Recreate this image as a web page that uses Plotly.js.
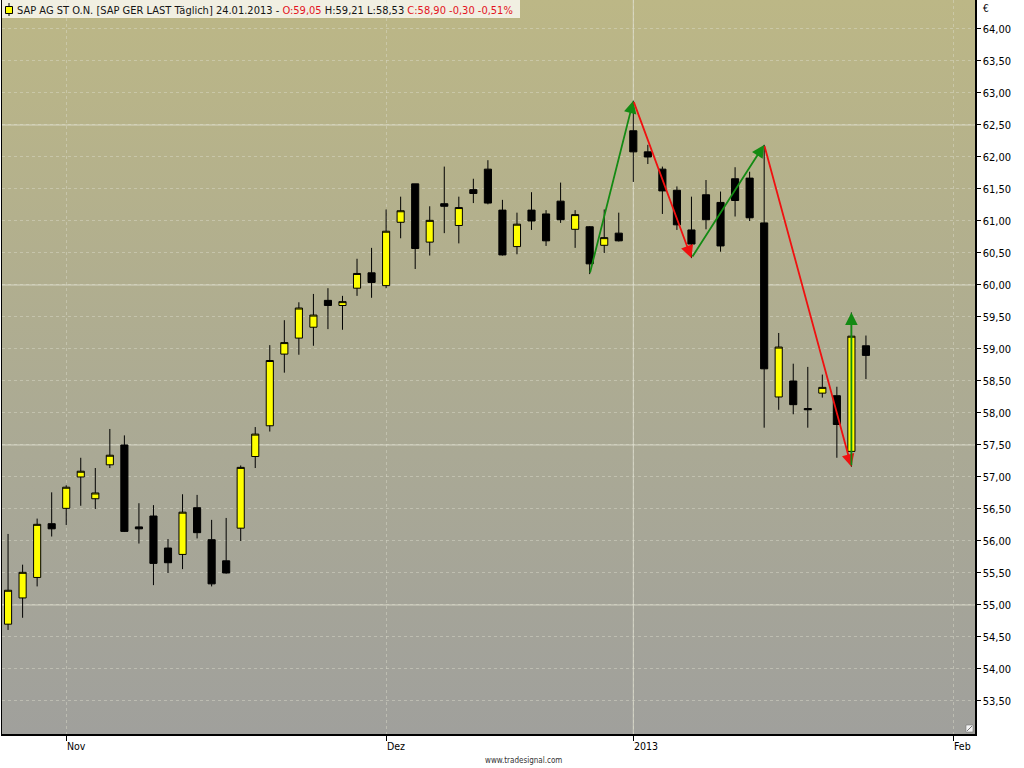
<!DOCTYPE html>
<html>
<head>
<meta charset="utf-8">
<script src="https://cdn.plot.ly/plotly-3.0.1.min.js"></script>
<style>
html,body{margin:0;padding:0;background:#ffffff;}
#wrap{position:relative;width:1024px;height:768px;background:#ffffff;overflow:hidden;}
#bg{position:absolute;left:2px;top:0px;width:973px;height:734px;
background:linear-gradient(to bottom,#bcb786 0%,#b3b08d 30%,#aaa995 62%,#a0a09c 100%);}
#chart{position:absolute;left:0;top:0;width:1024px;height:768px;}
</style>
</head>
<body>
<div id="wrap"><div id="bg"></div><div id="chart"></div></div>
<script>
// ---- data ----
const dates = [
 '2012-10-26','2012-10-29','2012-10-30','2012-10-31','2012-11-01','2012-11-02',
 '2012-11-05','2012-11-06','2012-11-07','2012-11-08','2012-11-09',
 '2012-11-12','2012-11-13','2012-11-14','2012-11-15','2012-11-16',
 '2012-11-19','2012-11-20','2012-11-21','2012-11-22','2012-11-23',
 '2012-11-26','2012-11-27','2012-11-28','2012-11-29','2012-11-30',
 '2012-12-03','2012-12-04','2012-12-05','2012-12-06','2012-12-07',
 '2012-12-10','2012-12-11','2012-12-12','2012-12-13','2012-12-14',
 '2012-12-17','2012-12-18','2012-12-19','2012-12-20','2012-12-21',
 '2012-12-27','2012-12-28',
 '2013-01-02','2013-01-03','2013-01-04',
 '2013-01-07','2013-01-08','2013-01-09','2013-01-10','2013-01-11',
 '2013-01-14','2013-01-15','2013-01-16','2013-01-17','2013-01-18',
 '2013-01-21','2013-01-22','2013-01-23','2013-01-24'
];
const openP = [
 54.70,55.11,55.43,56.27,56.51,57.00,
 56.66,57.19,57.50,56.22,56.39,
 55.89,55.79,56.52,56.02,55.69,
 56.20,57.32,57.80,58.92,59.17,
 59.34,59.76,59.68,59.95,60.19,
 59.99,60.98,61.58,60.67,61.27,
 60.93,61.49,61.81,61.17,60.60,
 61.17,61.11,61.31,60.87,60.91,
 60.62,60.81,
 62.41,62.08,61.81,
 61.48,60.86,61.41,61.29,61.66,
 61.67,60.97,58.25,58.50,58.07,
 58.31,58.27,57.40,59.05
];
const highP = [
 56.11,55.63,56.35,56.76,56.87,57.30,
 57.14,57.75,57.65,56.59,56.56,
 56.03,56.73,56.72,56.33,56.36,
 57.18,57.78,59.06,59.45,59.73,
 59.86,59.95,59.83,60.41,60.58,
 61.18,61.38,61.58,61.23,61.85,
 61.38,61.66,61.95,61.33,61.13,
 61.45,61.17,61.60,61.17,60.92,
 61.18,61.13,
 62.88,62.19,61.85,
 61.54,61.38,61.64,61.46,61.84,
 61.77,62.19,59.25,58.77,58.72,
 58.60,58.41,59.57,59.21
];
const lowP = [
 54.61,54.80,55.29,56.07,56.25,56.55,
 56.50,57.14,56.14,55.96,55.31,
 55.50,55.56,56.04,55.29,55.49,
 56.00,57.14,57.71,58.63,58.91,
 59.05,59.31,59.30,59.83,59.80,
 59.95,60.73,60.25,60.46,60.81,
 60.65,61.28,61.26,60.46,60.48,
 60.86,60.61,60.97,60.58,60.17,
 60.50,60.68,
 61.61,61.89,61.11,
 60.86,60.42,60.87,60.52,61.07,
 61.00,57.77,58.05,57.98,57.77,
 58.24,57.30,57.16,58.53
];
const closeP = [
 55.23,55.51,56.26,56.19,56.84,57.09,
 56.75,57.34,56.15,56.19,55.65,
 55.66,56.45,56.13,55.33,55.50,
 57.15,57.67,58.82,59.10,59.64,
 59.53,59.68,59.74,60.18,60.04,
 60.84,61.16,60.57,61.01,61.23,
 61.21,61.43,61.28,60.47,60.95,
 61.00,60.69,61.02,61.10,60.33,
 60.74,60.69,
 62.08,62.00,61.47,
 60.94,60.64,61.02,60.61,61.32,
 61.05,58.69,59.03,58.13,58.05,
 58.40,57.82,59.20,58.90
];
// zigzag swing points (arrows)
const zigDates  = ['2012-12-21','2013-01-02','2013-01-08','2013-01-15','2013-01-23','2013-01-23'];
const zigValues = [60.17, 62.88, 60.42, 62.19, 57.16, 59.57];
// axis ticks / labels
const monthTicks  = ['2012-11-01','2012-12-03','2013-01-02','2013-02-01'];
const monthLabels = ['Nov','Dez','2013','Feb'];
const holidays = ['2012-12-24','2012-12-25','2012-12-26','2012-12-31','2013-01-01'];
const yearLine = '2013-01-02';
const gridLevels = [55, 57.5, 60, 62.5];
const yTickMin = 53.5, yTickMax = 64.0, yTickStep = 0.5;
const titleMain = 'SAP AG ST O.N. [SAP GER LAST Täglich] 24.01.2013 - ';
const titleO = 'O:59,05';
const titleHL = 'H:59,21 L:58,53';
const titleC = 'C:58,90 -0,30 -0,51%';

// ---- build ----
const yTicks = [];
for (let v = yTickMin; v <= yTickMax + 1e-9; v += yTickStep) yTicks.push(+v.toFixed(2));

const FONT = '"DejaVu Sans Condensed", "DejaVu Sans", Tahoma, sans-serif';
const RED = '#e3141e';

const trace = {
  type: 'candlestick',
  x: dates, open: openP, high: highP, low: lowP, close: closeP,
  increasing: {line: {color: '#000000', width: 1}, fillcolor: '#ffff00'},
  decreasing: {line: {color: '#000000', width: 1}, fillcolor: '#000000'},
  hoverinfo: 'skip'
};

const shapes = [];
gridLevels.forEach(v => shapes.push({
  type: 'line', xref: 'paper', x0: 0, x1: 1, yref: 'y', y0: v, y1: v,
  line: {color: 'rgba(226,226,210,0.8)', width: 1}, layer: 'below'
}));
shapes.push({
  type: 'line', xref: 'x', x0: yearLine, x1: yearLine, yref: 'paper', y0: 0, y1: 1,
  line: {color: 'rgba(226,226,210,0.8)', width: 1}, layer: 'below'
});
// title strip
shapes.push({
  type: 'rect', xref: 'paper', xsizemode: 'pixel', xanchor: 0, x0: 0, x1: 518,
  yref: 'paper', ysizemode: 'pixel', yanchor: 1, y0: -18, y1: 0,
  fillcolor: '#f1efe2', line: {width: 0}, layer: 'below'
});
// small candle icon in title
shapes.push({
  type: 'line', xref: 'paper', xsizemode: 'pixel', xanchor: 0, x0: 7, x1: 7,
  yref: 'paper', ysizemode: 'pixel', yanchor: 1, y0: -3, y1: -16,
  line: {color: '#000', width: 1}, layer: 'above'
});
shapes.push({
  type: 'rect', xref: 'paper', xsizemode: 'pixel', xanchor: 0, x0: 3.5, x1: 10.5,
  yref: 'paper', ysizemode: 'pixel', yanchor: 1, y0: -6.5, y1: -13.5,
  fillcolor: '#ffff00', line: {color: '#000', width: 1}, layer: 'above'
});
// resize handle at bottom-right
shapes.push({
  type: 'rect', xref: 'paper', xsizemode: 'pixel', xanchor: 1, x0: -9, x1: -2,
  yref: 'paper', ysizemode: 'pixel', yanchor: 0, y0: 2, y1: 9,
  fillcolor: '#f4f4f4', line: {color: '#777', width: 0.6}, layer: 'above'
});
shapes.push({
  type: 'line', xref: 'paper', xsizemode: 'pixel', xanchor: 1, x0: -8, x1: -3,
  yref: 'paper', ysizemode: 'pixel', yanchor: 0, y0: 3, y1: 8,
  line: {color: '#555', width: 0.8}, layer: 'above'
});

const annotations = [];
annotations.push({
  xref: 'paper', yref: 'paper', x: 0, y: 1, xanchor: 'left', yanchor: 'top',
  xshift: 13, yshift: -2, showarrow: false, align: 'left',
  text: titleMain + '<span style="color:' + RED + '">' + titleO + '</span> ' + titleHL +
        ' <span style="color:' + RED + '">' + titleC + '</span>',
  font: {family: FONT, size: 11, color: '#141414'}
});
annotations.push({
  xref: 'paper', yref: 'paper', x: 1, y: 1, xanchor: 'left', yanchor: 'middle',
  xshift: 6, yshift: -8, showarrow: false, text: '€',
  font: {family: FONT, size: 10, color: '#000'}
});
monthTicks.forEach((d, i) => annotations.push({
  xref: 'x', yref: 'paper', x: d, y: 0, xanchor: 'left', yanchor: 'middle',
  xshift: -1, yshift: -12, showarrow: false, text: monthLabels[i],
  font: {family: FONT, size: 10.5, color: '#000'}
}));
annotations.push({
  xref: 'paper', yref: 'paper', x: (523 - 2) / 973, y: 0, xanchor: 'center', yanchor: 'middle',
  yshift: -26, showarrow: false, text: 'www.tradesignal.com',
  font: {family: FONT, size: 8, color: '#333'}
});
for (let i = 0; i < zigDates.length - 1; i++) {
  const up = zigValues[i + 1] > zigValues[i];
  annotations.push({
    xref: 'x', yref: 'y', axref: 'x', ayref: 'y',
    x: zigDates[i + 1], y: zigValues[i + 1], ax: zigDates[i], ay: zigValues[i],
    text: '', showarrow: true, arrowhead: 2, arrowsize: 1.4, arrowwidth: 1.8,
    arrowcolor: up ? '#138a13' : '#f01010', standoff: 0, startstandoff: 0
  });
}

const layout = {
  width: 1024, height: 768,
  margin: {l: 2, r: 49, t: 0, b: 34, pad: 0},
  paper_bgcolor: 'rgba(0,0,0,0)', plot_bgcolor: 'rgba(0,0,0,0)',
  showlegend: false, dragmode: false, separators: ',.',
  font: {family: FONT, size: 10, color: '#000'},
  xaxis: {
    type: 'date',
    range: ['2012-10-25 14:00', '2013-02-04 12:00'],
    rangebreaks: [{bounds: ['sat', 'mon']}, {values: holidays}],
    rangeslider: {visible: false},
    tickmode: 'array', tickvals: monthTicks, showticklabels: false,
    ticks: 'outside', ticklen: 5, tickcolor: '#000', tickwidth: 1,
    showgrid: true, gridcolor: 'rgba(222,222,206,0.45)', griddash: 'dot', gridwidth: 1,
    showline: true, linecolor: '#000', linewidth: 1.5, zeroline: false, fixedrange: true
  },
  yaxis: {
    side: 'right', range: [52.984, 64.453],
    tickmode: 'array', tickvals: yTicks, tickformat: '.2f',
    ticks: 'outside', ticklen: 4, tickcolor: '#000', tickwidth: 1,
    tickfont: {family: FONT, size: 11, color: '#000'},
    showgrid: true, gridcolor: 'rgba(222,222,206,0.45)', griddash: 'dot', gridwidth: 1,
    showline: true, mirror: true, linecolor: '#000', linewidth: 1.5, zeroline: false, fixedrange: true
  },
  shapes: shapes,
  annotations: annotations
};

Plotly.newPlot('chart', [trace], layout, {displayModeBar: false, staticPlot: true});
</script>
</body>
</html>
